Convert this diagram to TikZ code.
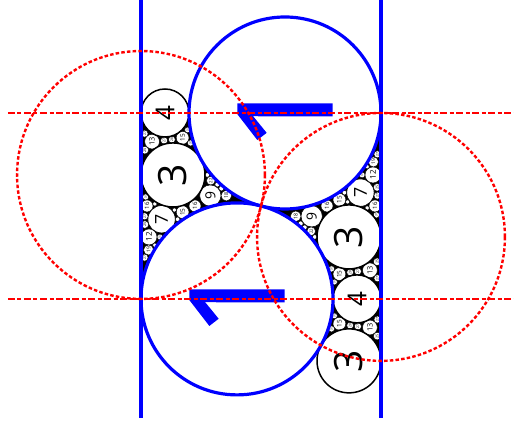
\documentclass[tikz,border=0pt]{standalone}
\usepackage{fontspec}
\setmainfont{Open Sans}
\newfontfamily\onefont[FakeBold=2]{Open Sans}
\begin{document}
\begin{tikzpicture}[
  lab/.style={rotate=90, inner sep=0pt},
  one/.style={rotate=90, inner sep=0pt, text=blue, font=\onefont\fontsize{130}{130}\selectfont},
  blueline/.style={draw=blue, line width=3.2pt},
  redline/.style={draw=red, line width=2.4pt, dash pattern=on 7pt off 2.5pt on 4pt off 2.5pt},
  redcirc/.style={draw=red, line width=2.4pt, dash pattern=on 3.5pt off 2.2pt},
  bigc/.style={draw=black, fill=white, line width=1.5pt}
]
\useasboundingbox (0pt,0pt) rectangle (514pt,430pt);
\begin{scope}[shift={(141pt,317pt)}, x=96pt, y=-96pt]
\def\h{1.936492}
% black interstices
\fill[black] (0,0) -- (0,\h)
  arc[start angle=180, end angle=284.4775, radius=1]
  arc[start angle=104.4775, end angle=180, radius=1]
  arc[start angle=0, end angle=180, radius=0.25] -- cycle;
\fill[black] (2.5,0) -- (2.5,2.581989)
  arc[start angle=0, end angle=-151.045, radius=0.333333]
  arc[start angle=28.955, end angle=-75.5225, radius=1]
  arc[start angle=104.4775, end angle=0, radius=1] -- cycle;
% small circles
\foreach \x/\y/\k [count=\i] in {
0.214286/1.106566/7, 0.722222/0.860663/9, 0.083333/1.290994/12, 0.433333/1.032796/15,
0.5625/0.968246/16, 0.0625/0.968246/16, 0.888889/0.860663/18, 0.078947/1.426889/19,
0.727273/0.704179/22, 0.04/1.161895/25, 0.037037/1.075828/27, 0.037037/1.506160/27,
0.048387/0.874544/31, 0.196970/1.290994/33, 0.837838/0.785064/37, 0.794872/0.744804/39,
0.690476/0.645497/42, 0.380952/1.106566/42, 0.144444/0.946729/45, 0.144444/1.377060/45,
0.347826/1.010343/46, 0.115385/0.297922/13, 0.433333/0.258199/15, 0.04/0.387298/25,
0.240741/0.286887/27, 0.037037/0.215166/27, 0.321429/0.276641/28, 0.516129/0.312337/31,
0.484848/0.176044/33,
2.285714/0.829926/7, 1.777778/1.075829/9, 2.416667/0.645498/12, 2.066667/0.903696/15,
1.9375/0.968246/16, 2.4375/0.968246/16, 1.611111/1.075829/18, 2.421053/0.509603/19,
1.772727/1.232313/22, 2.46/0.774597/25, 2.462963/0.860664/27, 2.462963/0.430332/27,
2.451613/1.061948/31, 2.303030/0.645498/33, 1.662162/1.151428/37, 1.705128/1.191688/39,
1.809524/1.290995/42, 2.119048/0.829926/42, 2.355556/0.989763/45, 2.355556/0.559432/45,
2.152174/0.926149/46, 2.384615/1.638570/13, 2.066667/1.678293/15, 2.46/1.549194/25,
2.259259/1.649605/27, 2.462963/1.721326/27, 2.178571/1.659851/28, 1.983871/1.624155/31,
2.015152/1.760448/33,
2.384615/2.234414/13, 2.066667/2.194691/15, 2.46/2.323790/25, 2.259259/2.223379/27,
2.462963/2.151658/27, 2.178571/2.213133/28, 1.983871/2.248829/31, 2.015152/2.112536/33}
{
  \pgfmathsetmacro\lw{max(0.45,4.8/\k)}
  \draw[draw=black, fill=white, line width=\lw pt] (\x,\y) circle[radius=1/\k];
  \ifnum\k<34
    \pgfmathsetmacro\fs{\k<10 ? 1.3*96/\k : 1.0*96/\k}
    \node[lab, font=\fontsize{\fs}{\fs}\selectfont] (s\i) at (\x,\y) {\k};
  \fi
}
% larger inner circles
\draw[bigc] (0.25,0) circle[radius=0.25];
\node[lab, font=\fontsize{26}{26}\selectfont] (lfour) at (0.25,0) {4};
\draw[bigc] (0.333333,0.645497) circle[radius=0.333333];
\node[lab, font=\fontsize{39}{39}\selectfont] (lthree) at (0.333333,0.645497) {3};
\draw[bigc] (2.25,\h) circle[radius=0.25];
\node[lab, font=\fontsize{26}{26}\selectfont] (rfour) at (2.25,\h) {4};
\draw[bigc] (2.166667,1.290994) circle[radius=0.333333];
\node[lab, font=\fontsize{39}{39}\selectfont] (rthree) at (2.166667,1.290994) {3};
\draw[bigc] (2.166667,2.581989) circle[radius=0.333333];
\node[lab, font=\fontsize{39}{39}\selectfont] (bthree) at (2.166667,2.581989) {3};
% blue unit circles and walls
\draw[blueline] (1.5,0) circle[radius=1];
\draw[blueline] (1,\h) circle[radius=1];
\draw[blueline] (0,-1.177083) -- (0,3.177083);
\draw[blueline] (2.5,-1.177083) -- (2.5,3.177083);
\node[one] (oneA) at (1.5,0) {1};
\node[one] (oneB) at (1,\h) {1};
% red mirrors
\draw[redline] (-1.385417,0) -- (3.885417,0);
\draw[redline] (-1.385417,\h) -- (3.885417,\h);
\draw[redcirc] (0,0.645497) circle[radius=1.290994];
\draw[redcirc] (2.5,1.290994) circle[radius=1.290994];
\end{scope}
\end{tikzpicture}
\end{document}
